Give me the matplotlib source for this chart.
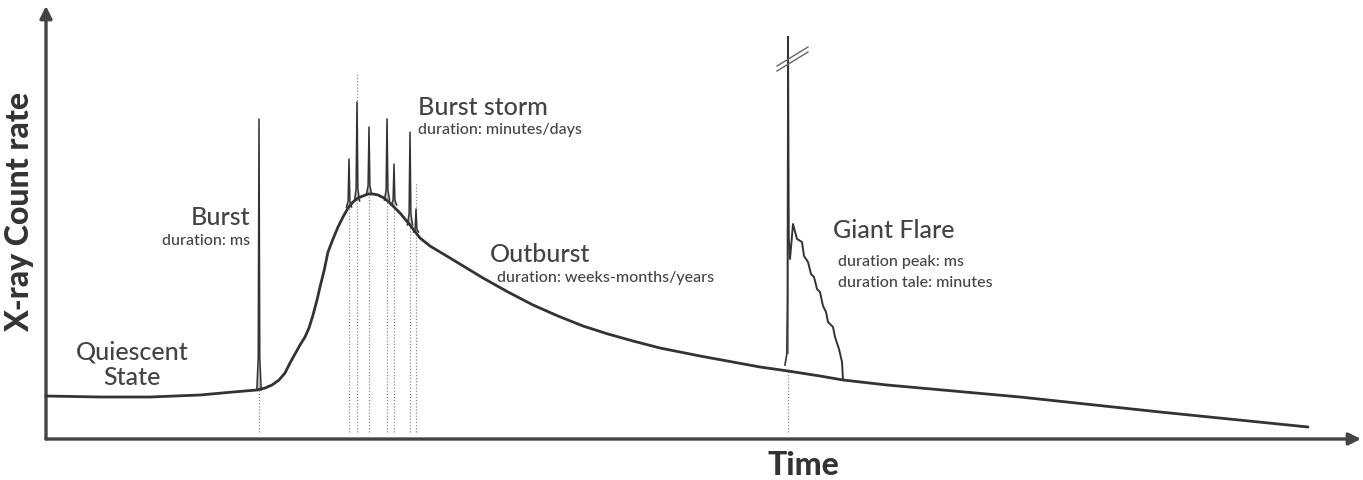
import matplotlib.pyplot as plt
import numpy as np

# Схема активности магнетара: время (t) и скорость счёта (rate), произвольные единицы
curve_t = np.array([0, 54, 104, 154, 187, 211, 219, 226, 233, 239, 244, 249, 254, 259,
                    263, 267, 271, 274, 278, 282, 287, 292, 297, 302, 307, 312, 317, 322,
                    327, 332, 338, 344, 354, 364, 374, 384, 404, 437, 462, 487, 512, 537,
                    562, 587, 614, 654, 714, 742, 774, 797, 841, 974, 1114, 1262])
curve_rate = np.array([43, 42, 42, 44, 47, 49, 51, 54, 59, 66, 76, 85, 94, 102,
                       111, 124, 139, 152, 168, 187, 200, 212, 222, 231, 237, 241, 243, 245,
                       245, 244, 241, 236, 226, 214, 201, 193, 181, 161, 147, 134, 123, 113,
                       105, 98, 91, 83, 72, 68, 63, 59, 54, 42, 27, 12])

# одиночная вспышка
burst_t = [213]
burst_top = [320]
burst_base = [49]

# шторм вспышек
storm_t = [303, 311, 323, 341, 348, 364, 370]
storm_top = [280, 337, 312, 320, 275, 307, 230]
storm_base = [232, 238, 245, 239, 234, 214, 207]
storm_guide_top = [232, 365, 245, 322, 234, 214, 257]

# гигантская вспышка: пик и хвост
flare_t = 742
flare_top = 402
flare_base = 77
flare_tail_t = [744, 747, 751, 756, 758, 762, 765, 768, 771, 774, 777, 780, 782,
                787, 789, 793, 796, 797]
flare_tail_rate = [180, 215, 200, 197, 183, 177, 165, 162, 150, 147, 133, 127, 117,
                   112, 102, 90, 77, 59]

line_col = '#333333'
text_col = '#444444'
dot_col = '#8c8c8c'

plt.rcParams['font.family'] = ['Lato', 'DejaVu Sans']

fig = plt.figure(figsize=(13.63, 4.81), dpi=100)
ax = fig.add_axes([0, 0, 1, 1])
ax.set_xlim(-46, 1317)
ax.set_ylim(-41, 440)
ax.axis('off')

# оси со стрелками
ax.annotate('', xy=(0, 433), xytext=(0, 0),
            arrowprops=dict(arrowstyle='-|>', color='#444444', lw=2.4, mutation_scale=18,
                            shrinkA=0, shrinkB=0))
ax.annotate('', xy=(1315, 0), xytext=(0, 0),
            arrowprops=dict(arrowstyle='-|>', color='#444444', lw=2.4, mutation_scale=18,
                            shrinkA=0, shrinkB=0))

# вертикальные пунктирные линии
for t, top in zip(burst_t + storm_t + [flare_t],
                  burst_base + storm_guide_top + [68]):
    ax.plot([t, t], [7, top], ls=(0, (1, 1.5)), color=dot_col, lw=0.9, zorder=1)

# основная кривая
ax.plot(curve_t, curve_rate, color=line_col, lw=2.0, solid_capstyle='round',
        solid_joinstyle='round', zorder=3)


def spike(t, base, top, w):
    xs = [t - w, t - w * 0.35, t, t + w * 0.35, t + w]
    ys = [base, base + (top - base) * 0.12, top, base + (top - base) * 0.12, base]
    ax.fill(xs, ys, color='#bdbdbd', lw=0, zorder=2)
    ax.plot(xs, ys, color=line_col, lw=1.1, zorder=3)


for t, top, base in zip(burst_t, burst_top, burst_base):
    spike(t, base, top, 2.2)
for t, top, base in zip(storm_t, storm_top, storm_base):
    spike(t, base, top, 2.6)

# гигантская вспышка
ax.plot([flare_t - 3, flare_t - 1.2, flare_t - 0.6, flare_t],
        [flare_base - 3, flare_base + 8, flare_base + 60, flare_top],
        color=line_col, lw=1.2, zorder=3)
ax.plot([flare_t, flare_t + 0.8] + flare_tail_t,
        [flare_top, flare_tail_rate[0] + 20] + flare_tail_rate,
        color=line_col, lw=1.4, solid_joinstyle='round', zorder=3)
ax.fill_betweenx([flare_base + 8, flare_top], flare_t - 1.2, flare_t + 0.8,
                 color='#888888', lw=0, zorder=2)

# знак разрыва шкалы
for dy in (0, 5):
    ax.plot([flare_t - 11, flare_t + 20], [373 - dy, 392 - dy], color='#666666',
            lw=1.0, zorder=4)

# подписи
big = 18
small = 11.5
ax.text(86, 80, 'Quiescent', fontsize=big, color=text_col, ha='center', va='baseline',
        fontweight='medium')
ax.text(86, 55, 'State', fontsize=big, color=text_col, ha='center', va='baseline',
        fontweight='medium')

ax.text(204, 215, 'Burst', fontsize=big, color=text_col, ha='right', va='baseline',
        fontweight='medium')
ax.text(204, 195, 'duration: ms', fontsize=small, color=text_col, ha='right', va='baseline',
        fontweight='medium')

ax.text(372, 325, 'Burst storm', fontsize=big, color=text_col, ha='left', va='baseline',
        fontweight='medium')
ax.text(372, 306, 'duration: minutes/days', fontsize=small, color=text_col, ha='left',
        va='baseline', fontweight='medium')

ax.text(444, 178, 'Outburst', fontsize=big, color=text_col, ha='left', va='baseline',
        fontweight='medium')
ax.text(451, 158, 'duration: weeks-months/years', fontsize=small, color=text_col,
        ha='left', va='baseline', fontweight='medium')

ax.text(787, 202, 'Giant Flare', fontsize=big, color=text_col, ha='left', va='baseline',
        fontweight='medium')
ax.text(792, 174, 'duration peak: ms', fontsize=small, color=text_col, ha='left',
        va='baseline', fontweight='medium')
ax.text(792, 153, 'duration tale: minutes', fontsize=small, color=text_col, ha='left',
        va='baseline', fontweight='medium')

ax.text(757, -35, 'Time', fontsize=23, fontweight='black', color=line_col, ha='center',
        va='baseline')
ax.text(-26, 228, 'X-ray Count rate', fontsize=23, fontweight='black', color=line_col,
        ha='center', va='center', rotation=90)

fig.savefig('out.png', dpi=100)
